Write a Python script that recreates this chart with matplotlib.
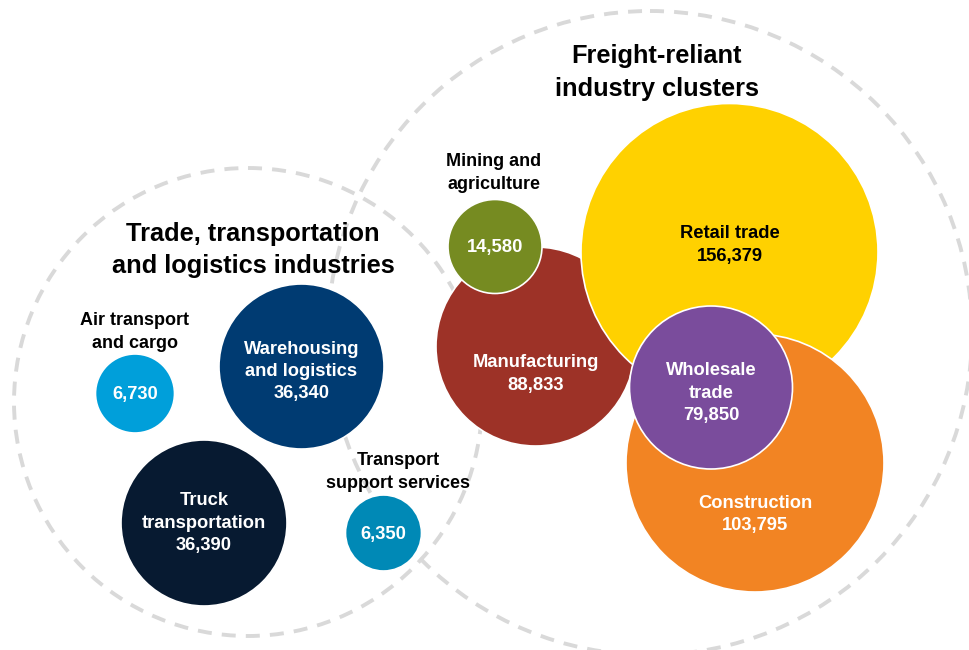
import matplotlib.pyplot as plt
from matplotlib.patches import Circle

plt.rcParams['font.family'] = ['Liberation Sans', 'DejaVu Sans']
plt.rcParams['font.weight'] = 'bold'

# jobs by industry
industries = ["Air transport and cargo", "Warehousing and logistics", "Truck transportation",
              "Transport support services", "Manufacturing", "Mining and agriculture",
              "Retail trade", "Construction", "Wholesale trade"]
jobs = [6730, 36340, 36390, 6350, 88833, 14580, 156379, 103795, 79850]
# label split: text inside the bubble, text above it
inner_names = ["", "Warehousing\nand logistics", "Truck\ntransportation", "", "Manufacturing",
               "", "Retail trade", "Construction", "Wholesale\ntrade"]
outer_names = ["Air transport\nand cargo", "", "", "Transport\nsupport services", "",
               "Mining and\nagriculture", "", "", ""]
colors = ["#009FDA", "#003B72", "#071A31", "#0089B6", "#9D3227",
          "#768B21", "#FFD100", "#F28423", "#7A4C9C"]
text_colors = ["white"] * 6 + ["black", "white", "white"]

groups = ["Trade, transportation\nand logistics industries", "Freight-reliant\nindustry clusters"]

# layout (pixels)
cx = [135, 301.5, 204, 383.5, 535.5, 495, 729.5, 755, 711]
cy = [393.5, 366.5, 523, 533, 346.5, 246.5, 252, 463, 387.5]
rad = [39.5, 82.5, 83, 38, 99.5, 47, 148.5, 129, 81.5]
text_dy = [1, 5, 0, 1, 27.5, 1, -7, 51.5, 5.5]
outer_y = [332, 0, 0, 472, 0, 173, 0, 0, 0]
outer_x = [135, 0, 0, 398, 0, 494, 0, 0, 0]

group_cx = [248, 650]
group_cy = [402, 333]
group_r = [234, 322]
group_tx = [253, 657]
group_ty = [250, 72.5]

fig = plt.figure(figsize=(9.69, 6.5), dpi=100)
ax = fig.add_axes([0, 0, 1, 1])
ax.set_xlim(0, 969)
ax.set_ylim(650, 0)
ax.set_aspect('equal')
ax.axis('off')

for i in range(2):
    ax.add_patch(Circle((group_cx[i], group_cy[i]), group_r[i], fill=False,
                        edgecolor="#d9d9d9", lw=2.8, linestyle=(0, (3.6, 2.6)), zorder=1))
    ax.text(group_tx[i], group_ty[i], groups[i], ha='center', va='center',
            fontsize=18.3, linespacing=1.43, color="black", zorder=10)

for i in range(len(jobs)):
    ax.add_patch(Circle((cx[i], cy[i]), rad[i], facecolor=colors[i],
                        edgecolor="white", lw=1.2, zorder=2 + i))
    label = f"{jobs[i]:,}"
    if inner_names[i]:
        label = inner_names[i] + "\n" + label
    ax.text(cx[i], cy[i] + text_dy[i], label, ha='center', va='center', fontsize=13.2,
            linespacing=1.41, color=text_colors[i], zorder=20)
    if outer_names[i]:
        ax.text(outer_x[i], outer_y[i], outer_names[i], ha='center', va='center',
                fontsize=13, linespacing=1.44, color="black", zorder=20)

fig.savefig("out.png", dpi=100)
